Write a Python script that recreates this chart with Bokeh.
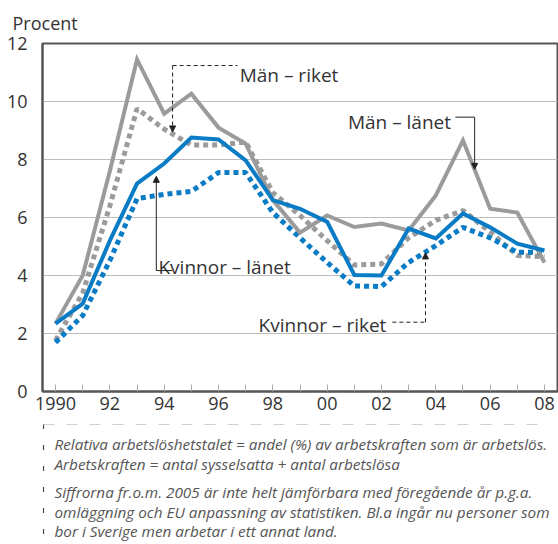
from bokeh.plotting import figure
from bokeh.models import Range1d, FixedTicker, Label, Arrow, NormalHead, Title
from bokeh.layouts import column
from bokeh.embed import file_html
from bokeh.resources import INLINE
from bokeh.core.properties import value

# ---------------- data ----------------
years = list(range(1990, 2009))
man_lanet = [2.34, 4.0, 7.6, 11.45, 9.58, 10.27, 9.1, 8.55, 6.6, 5.48,
             6.07, 5.67, 5.79, 5.55, 6.76, 8.66, 6.3, 6.17, 4.45]
man_riket = [1.76, 3.4, 6.4, 9.75, 9.05, 8.5, 8.5, 8.6, 6.86, 6.07,
             5.2, 4.36, 4.4, 5.3, 5.9, 6.24, 5.5, 4.69, 4.65]
kvinnor_lanet = [2.34, 3.03, 5.2, 7.17, 7.86, 8.76, 8.69, 7.97, 6.6, 6.3,
                 5.85, 4.02, 4.0, 5.62, 5.28, 6.14, 5.66, 5.1, 4.86]
kvinnor_riket = [1.69, 2.62, 4.52, 6.65, 6.8, 6.9, 7.55, 7.55, 6.17, 5.3,
                 4.45, 3.64, 3.62, 4.45, 5.03, 5.66, 5.3, 4.8, 4.8]
y_ticks = [0, 2, 4, 6, 8, 10, 12]
x_tick_labels = {1990: "1990", 1992: "92", 1994: "94", 1996: "96", 1998: "98",
                 2000: "00", 2002: "02", 2004: "04", 2006: "06", 2008: "08"}
notes = [
    "Relativa arbetslöshetstalet = andel (%) av arbetskraften som är arbetslös.",
    "Arbetskraften = antal sysselsatta + antal arbetslösa",
    "Siffrorna fr.o.m. 2005 är inte helt jämförbara med föregående år p.g.a.",
    "omläggning och EU anpassning av statistiken. Bl.a ingår nu personer som",
    "bor i Sverige men arbetar i ett annat land.",
]

GRAY = "#9b9b9b"
BLUE = "#0a7cc5"
DARK = "#333333"
FONT = "Open Sans"

p = figure(width=558, height=424,
           x_range=Range1d(1989.52, 2008.48), y_range=Range1d(0, 12),
           output_backend="svg", toolbar_location=None,
           min_border_left=42, min_border_right=1,
           min_border_top=43, min_border_bottom=33)

p.title = Title(text="Procent", align="left", offset=-30, text_font=FONT,
                text_font_size="18px", text_font_style="normal",
                text_color=DARK, standoff=17)

p.outline_line_color = "#555555"
p.outline_line_width = 2
p.background_fill_color = "white"
p.border_fill_color = "white"

# axes
p.xaxis.ticker = FixedTicker(ticks=years)
p.xaxis.major_label_overrides = {y: x_tick_labels.get(y, "") for y in years}
p.xaxis.major_tick_in = 7
p.xaxis.major_tick_out = 0
p.xaxis.major_tick_line_color = "#aaaaaa"
p.xaxis.minor_tick_line_color = None
p.xaxis.major_label_standoff = 5
p.yaxis.ticker = FixedTicker(ticks=y_ticks)
p.yaxis.major_tick_line_color = None
p.yaxis.minor_tick_line_color = None
p.yaxis.major_label_standoff = 9
for ax in (p.xaxis[0], p.yaxis[0]):
    ax.axis_line_color = "#555555"
    ax.axis_line_width = 2
    ax.major_label_text_font = FONT
    ax.major_label_text_font_size = "18px"
    ax.major_label_text_color = DARK

p.xgrid.visible = False
p.ygrid.ticker = FixedTicker(ticks=y_ticks)
p.ygrid.grid_line_color = "#bdbdbd"
p.ygrid.grid_line_width = 1

# series
p.line(years, man_riket, line_color=GRAY, line_width=5, line_dash="5 4")
p.line(years, kvinnor_riket, line_color=BLUE, line_width=5, line_dash="5 4")
p.line(years, man_lanet, line_color=GRAY, line_width=4, line_join="miter")
p.line(years, kvinnor_lanet, line_color=BLUE, line_width=4, line_join="miter")


def head():
    return NormalHead(size=6, fill_color="#222222", line_color="#222222", line_width=1)


def leader(x0, y0, x1, y1, dashed, arrow):
    kw = dict(x_start=x0, y_start=y0, x_end=x1, y_end=y1,
              line_color="#222222", line_width=1,
              end=head() if arrow else None)
    if dashed:
        kw["line_dash"] = "4 3"
    p.add_layout(Arrow(**kw))


def label(x, y, text, align):
    p.add_layout(Label(x=x, y=y, text=text, text_font=FONT, text_font_size="19px",
                       text_color=DARK, text_baseline="alphabetic", text_align=align))


# Män – riket
leader(1994.31, 11.24, 1996.70, 11.24, True, False)
leader(1994.31, 11.24, 1994.31, 8.95, True, True)
label(1996.78, 10.9, "Män – riket", "left")
# Män – länet
leader(2004.72, 9.46, 2005.43, 9.46, False, False)
leader(2005.43, 9.46, 2005.43, 7.66, False, True)
label(2004.56, 9.29, "Män – länet", "right")
# Kvinnor – länet
leader(1993.71, 4.17, 1994.30, 4.17, False, False)
leader(1993.71, 4.17, 1993.71, 7.42, False, True)
label(1993.79, 4.3, "Kvinnor – länet", "left")
# Kvinnor – riket
leader(2002.4, 2.39, 2003.62, 2.39, True, False)
leader(2003.62, 2.39, 2003.62, 4.78, True, True)
label(2002.18, 2.31, "Kvinnor – riket", "right")

# ---------------- footnote (pixel-based panel under the chart) ----------------
f = figure(width=558, height=120, x_range=Range1d(42, 557), y_range=Range1d(544, 424),
           output_backend="svg", toolbar_location=None,
           min_border_left=42, min_border_right=1, min_border_top=0, min_border_bottom=0,
           x_axis_location=None, y_axis_location=None)
f.outline_line_color = None
f.grid.visible = False
f.text(x=[54] * len(notes), y=[443, 463, 491, 511, 530], text=notes,
       text_font=value(FONT), text_font_style="italic", text_font_size="15.3px",
       text_color="#555555", text_baseline="middle")
f.line(x=[43, 548], y=[423.5, 423.5], line_color="#444444", line_width=1.2, line_dash="11 12")
f.line(x=[43, 43], y=[423.5, 544], line_color="#444444", line_width=1.2, line_dash="5 16")

layout = column(p, f)
open("out.html", "w").write(file_html(layout, INLINE))
